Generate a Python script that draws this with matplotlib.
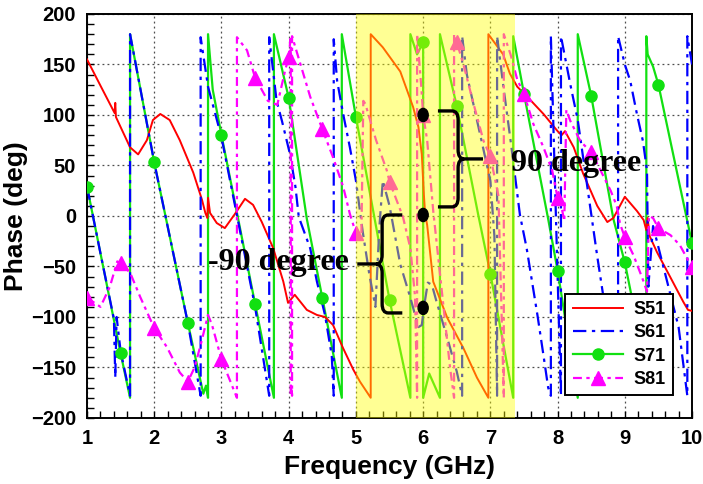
import numpy as np
import matplotlib.pyplot as plt
from matplotlib.path import Path
from matplotlib.patches import PathPatch, Ellipse
from matplotlib.lines import Line2D
from matplotlib.ticker import MultipleLocator

plt.rcParams['font.family'] = ['Liberation Sans', 'DejaVu Sans']

# --- data (frequency in GHz, phase in deg) ---
# a repeated frequency means a wrap jump of the phase
s51_f = [1.0, 1.2, 1.41, 1.42, 1.43, 1.64, 1.76, 1.89, 1.98, 2.09, 2.23, 2.38, 2.58, 2.71,
         2.76, 2.79, 2.8, 2.83, 2.93, 3.05, 3.2, 3.35, 3.47, 3.6, 3.77, 3.92, 3.99, 4.09,
         4.27, 4.42, 4.54, 4.66, 4.81, 4.96, 5.06, 5.22, 5.22, 5.4, 5.66, 5.85, 5.93, 5.98,
         6.01, 6.03, 6.06, 6.15, 6.36, 6.6, 6.8, 6.97, 6.97, 7.19, 7.29, 7.4, 7.55, 7.79,
         8.0, 8.06, 8.11, 8.24, 8.38, 8.59, 8.74, 8.83, 9.0, 9.18, 9.28, 9.32, 9.34, 9.37,
         9.48, 9.68, 9.87, 9.94, 10.0]
s51_p = [155, 129, 102, 112, 98, 68, 61, 75, 95, 101, 95, 75, 43, 16,
         3, -2, 18, 3, -7, -12, 2, 17, 11, -6, -32, -65, -86, -78,
         -93, -98, -100, -108, -131, -152, -164, -180, 180, 167, 143, 108, 88, 61,
         22, 2, -9, -65, -101, -131, -160, -180, 180, 160, 141, 128, 118, 101,
         84, 80, 84, 68, 42, 10, -6, -2, 19, 5, -4, -14, -2, -20,
         -36, -61, -85, -93, -94]

s61_f = [1.0, 1.2, 1.4, 1.42, 1.44, 1.5, 1.64, 1.64, 2.0, 2.5, 2.69, 2.69, 2.8, 3.0,
         3.5, 3.71, 3.71, 3.82, 3.9, 4.02, 4.1, 4.15, 4.21, 4.32, 4.42, 4.54, 4.64, 4.67,
         4.67, 4.72, 4.81, 4.91, 5.0, 5.1, 5.2, 5.29, 5.35, 5.4, 5.5, 5.66, 5.81, 5.93,
         5.98, 6.01, 6.07, 6.13, 6.2, 6.36, 6.5, 6.58, 6.58, 6.65, 6.89, 7.0, 7.06, 7.1,
         7.1, 7.2, 7.3, 7.44, 7.54, 7.7, 7.79, 7.86, 7.9, 7.9, 8.05, 8.05, 8.19, 8.3,
         8.44, 8.59, 8.75, 8.9, 8.9, 9.0, 9.08, 9.18, 9.27, 9.33, 9.35, 9.42, 9.63, 9.8,
         9.93, 9.93, 10.0]
s61_p = [29, -37, -102, -160, -100, -134, -178, 180, 53, -106, -178, 177, 128, 78,
         -90, -178, 177, 114, 94, 61, 29, -1, -12, -32, -65, -98, -138, -178,
         175, 134, 101, 68, 35, -15, -58, -90, -10, 35, 10, -48, -81, -110,
         -108, -91, -66, -68, -85, -121, -154, -178, 178, 140, 68, 35, -20, -178,
         178, 125, 75, 1, -32, -98, -138, -170, -178, 178, -178, 178, 130, 95,
         30, -40, -110, -178, 178, 150, 134, 101, 74, 45, -70, -10, -65, -110,
         -178, 178, 150]

s71_f = [1.0, 1.5, 1.64, 1.64, 2.0, 2.5, 2.73, 2.77, 2.8, 2.8, 2.87, 3.0, 3.5, 3.78,
         3.78, 4.0, 4.27, 4.5, 4.79, 4.79, 5.0, 5.5, 5.81, 5.81, 5.91, 6.0, 6.0, 6.09,
         6.25, 6.25, 6.5, 6.82, 7.0, 7.34, 7.34, 7.5, 7.86, 8.0, 8.3, 8.3, 8.5, 8.83,
         9.0, 9.32, 9.32, 9.34, 9.42, 9.5, 10.0]
s71_p = [29, -136, -180, 180, 53, -106, -176, -168, -180, 180, 125, 80, -87, -180,
         180, 117, -3, -81, -180, 180, 98, -83, -180, 180, 160, 172, -180, -156,
         -180, 180, 109, 1, -57, -180, 178, 121, -3, -54, -180, 180, 119, -3,
         -46, -152, 178, 160, 148, 130, -27]

s81_f = [1.0, 1.2, 1.34, 1.45, 1.5, 1.64, 1.79, 2.0, 2.19, 2.38, 2.5, 2.6, 2.7, 2.8,
         2.86, 3.0, 3.23, 3.23, 3.38, 3.5, 3.69, 3.83, 3.95, 4.0, 4.03, 4.03, 4.04, 4.05,
         4.05, 4.32, 4.5, 4.66, 4.81, 4.91, 5.0, 5.08, 5.11, 5.14, 5.3, 5.46, 5.5, 5.7,
         5.81, 5.88, 5.91, 5.91, 5.97, 6.0, 6.06, 6.15, 6.4, 6.46, 6.46, 6.5, 6.6, 6.75,
         6.9, 7.0, 7.12, 7.2, 7.2, 7.3, 7.4, 7.5, 7.64, 7.79, 7.92, 8.0, 8.07, 8.1,
         8.13, 8.19, 8.34, 8.5, 8.64, 8.79, 8.88, 8.93, 9.0, 9.13, 9.28, 9.33, 9.36, 9.42,
         9.5, 9.68, 9.82, 10.0]
s81_p = [-81, -90, -70, -45, -47, -56, -80, -111, -130, -155, -164, -150, -125, -98,
         -108, -142, -180, 177, 164, 137, 114, 110, 145, 157, 178, -178, -170, -178,
         178, 118, 86, 58, 29, 2, -17, -25, 114, 111, 75, 45, 34, -1,
         -32, -80, -180, 180, 130, 100, 75, 5, -150, -180, 180, 172, 150, 111,
         74, 59, 20, -180, 180, 160, 135, 121, 91, 68, 45, 18, 5, -5,
         105, 94, 74, 63, 45, 25, 10, -8, -21, -39, -65, -75, 0, -2,
         -12, -19, -29, -51]

# marker samples every 0.5 GHz
mark_f = [1.0, 1.5, 2.0, 2.5, 3.0, 3.5, 4.0, 4.5, 5.0, 5.5, 6.0, 6.5, 7.0, 7.5, 8.0,
          8.5, 9.0, 9.5, 10.0]
s71_mark = [29, -136, 53, -106, 80, -87, 117, -81, 98, -83, 172, 109, -57, 121, -54,
            119, -46, 130, -27]
s81_mark = [-81, -47, -111, -164, -142, 137, 157, 86, -17, 34, 100, 172, 59, 121, 18,
            63, -21, -12, -51]

# phases marked at 6 GHz
dot_f = [6.0, 6.0, 6.0]
dot_p = [100, 1, -91]


def brace(ax, x_arm, x_spine, x_tip, y_top, y_bot, rx=0.09, ry=9):
    # curly brace, opening towards x_arm, tip pointing to x_tip
    d = 1 if x_tip > x_spine else -1
    y_mid = (y_top + y_bot) / 2.0
    verts = [(x_arm, y_top), (x_spine - d * rx, y_top), (x_spine, y_top), (x_spine, y_top - ry),
             (x_spine, y_mid + ry), (x_spine, y_mid), (x_spine + d * rx, y_mid), (x_tip, y_mid),
             (x_spine + d * rx, y_mid), (x_spine, y_mid), (x_spine, y_mid - ry),
             (x_spine, y_bot + ry), (x_spine, y_bot), (x_spine - d * rx, y_bot), (x_arm, y_bot)]
    codes = [Path.MOVETO, Path.LINETO, Path.CURVE3, Path.CURVE3,
             Path.LINETO, Path.CURVE3, Path.CURVE3, Path.LINETO,
             Path.MOVETO, Path.CURVE3, Path.CURVE3,
             Path.LINETO, Path.CURVE3, Path.CURVE3, Path.LINETO]
    ax.add_patch(PathPatch(Path(verts, codes), facecolor='none', edgecolor='black',
                           linewidth=2.4, zorder=6, capstyle='butt'))


fig = plt.figure(figsize=(7.03, 4.84), dpi=100)
ax = fig.add_axes([0.1238, 0.1364, 0.8606, 0.8347])

c51, c61, c71, c81 = '#ff0000', '#0000ff', '#11e011', '#ff00ff'
ls61 = (0, (6, 2.5, 1.5, 2.5))
ls81 = (0, (4, 2, 1.5, 2))

ax.plot(s51_f, s51_p, color=c51, lw=1.4, zorder=3)
ax.plot(s71_f, s71_p, color=c71, lw=1.6, zorder=2)
ax.plot(s61_f, s61_p, color=c61, lw=1.6, ls=ls61, zorder=3)
ax.plot(s81_f, s81_p, color=c81, lw=1.6, ls=ls81, zorder=3)
ax.plot(mark_f, s71_mark, ls='none', marker='o', ms=8, color=c71, zorder=3.5)
ax.plot(mark_f, s81_mark, ls='none', marker='^', ms=10, color=c81, zorder=3.5)

# highlighted band
ax.axvspan(5.0, 7.37, color='yellow', alpha=0.42, lw=0, zorder=4)

for f, p in zip(dot_f, dot_p):
    ax.add_patch(Ellipse((f, p), 0.15, 13, color='black', zorder=6))

brace(ax, 6.22, 6.52, 6.89, 104, 9)
brace(ax, 5.69, 5.39, 5.02, 1, -96)
ax.text(7.3, 52, '90 degree', fontsize=23, fontweight='bold', family='Liberation Serif',
        ha='left', va='center', zorder=7)
ax.text(4.9, -46, '-90 degree', fontsize=23, fontweight='bold', family='Liberation Serif',
        ha='right', va='center', zorder=7)

ax.set_xlim(1, 10)
ax.set_ylim(-200, 200)
ax.xaxis.set_major_locator(MultipleLocator(1))
ax.xaxis.set_minor_locator(MultipleLocator(0.2))
ax.yaxis.set_major_locator(MultipleLocator(50))
ax.yaxis.set_minor_locator(MultipleLocator(10))
ax.tick_params(which='both', direction='in', length=5, width=1, labelsize=14.5, pad=8)
ax.grid(True, which='major', ls=(0, (1.5, 2.5)), color='0.3', lw=0.9, zorder=1)
for lab in ax.get_xticklabels() + ax.get_yticklabels():
    lab.set_fontweight('bold')
for sp in ax.spines.values():
    sp.set_linewidth(1.4)

ax.set_xlabel('Frequency (GHz)', fontsize=19, fontweight='bold', labelpad=5)
ax.set_ylabel('Phase (deg)', fontsize=19, fontweight='bold', labelpad=2)

handles = [Line2D([], [], color=c51, lw=1.4),
           Line2D([], [], color=c61, lw=1.6, ls=ls61),
           Line2D([], [], color=c71, lw=1.6, marker='o', ms=8),
           Line2D([], [], color=c81, lw=1.6, ls=ls81, marker='^', ms=10)]
leg = ax.legend(handles, ['S51', 'S61', 'S71', 'S81'], loc='upper right',
                bbox_to_anchor=(0.969, 0.307), borderaxespad=0, fancybox=False,
                framealpha=1, edgecolor='black', prop={'weight': 'bold', 'size': 13},
                handlelength=2.8, borderpad=0.4, labelspacing=0.35, handletextpad=0.6)
leg.get_frame().set_linewidth(1.4)
leg.set_zorder(10)

fig.savefig('out.png', dpi=100)
